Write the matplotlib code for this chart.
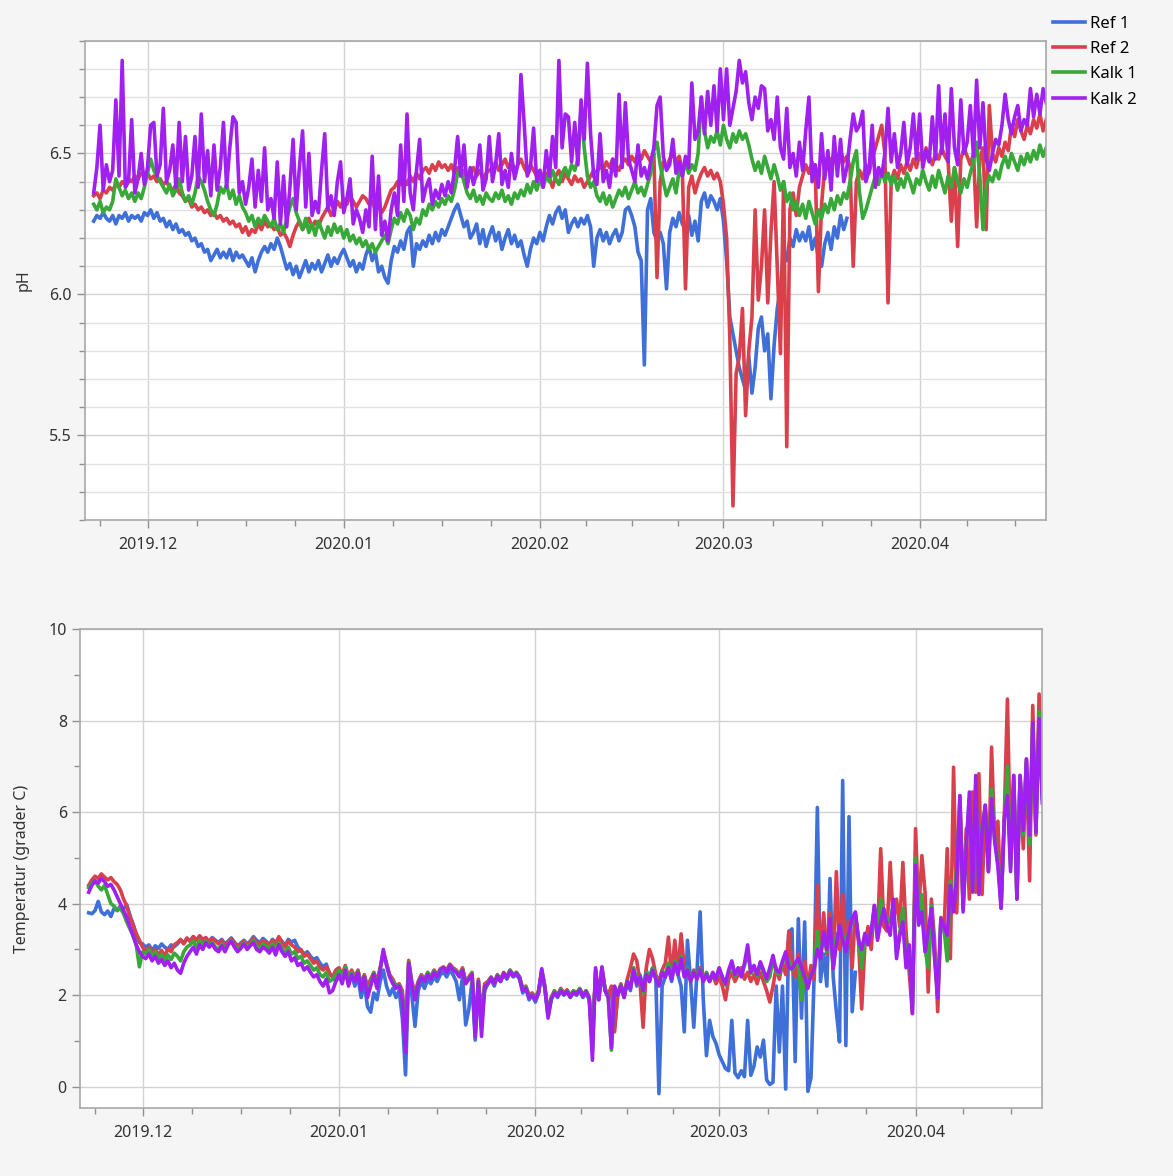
import numpy as np
import pandas as pd
import matplotlib
matplotlib.use("Agg")
import matplotlib.pyplot as plt
import matplotlib.dates as mdates
from matplotlib.ticker import FixedLocator, MultipleLocator

plt.rcParams['font.family'] = ['Noto Sans', 'DejaVu Sans']

series_names = ['Ref 1', 'Ref 2', 'Kalk 1', 'Kalk 2']
colors = ['#3f6fd8', '#d8404c', '#38a838', '#a020f0']

# 12-hourly samples starting 2019-11-22 12:00
times = pd.date_range('2019-11-22 12:00', periods=302, freq='12h')

# ---------------- pH ----------------
ph_ref1 = [
    6.26, 6.28, 6.27, 6.29, 6.27, 6.26, 6.28, 6.25, 6.28, 6.27, 6.29, 6.26, 6.28, 6.27,
    6.28, 6.26, 6.29, 6.28, 6.30, 6.27, 6.29, 6.26, 6.27, 6.24, 6.26, 6.23, 6.25, 6.22,
    6.23, 6.21, 6.22, 6.19, 6.20, 6.17, 6.18, 6.15, 6.16, 6.12, 6.14, 6.16, 6.13, 6.15,
    6.13, 6.16, 6.12, 6.15, 6.13, 6.14, 6.12, 6.10, 6.13, 6.08, 6.12, 6.15, 6.17, 6.15,
    6.18, 6.16, 6.20, 6.17, 6.13, 6.09, 6.11, 6.07, 6.10, 6.06, 6.09, 6.12, 6.08, 6.11,
    6.09, 6.12, 6.08, 6.11, 6.14, 6.10, 6.13, 6.11, 6.14, 6.16, 6.13, 6.10, 6.12, 6.08,
    6.11, 6.09, 6.14, 6.17, 6.12, 6.15, 6.08, 6.10, 6.06, 6.04, 6.12, 6.17, 6.15, 6.19,
    6.16, 6.22, 6.24, 6.10, 6.18, 6.16, 6.19, 6.17, 6.21, 6.18, 6.22, 6.19, 6.23, 6.21,
    6.24, 6.27, 6.30, 6.32, 6.28, 6.24, 6.26, 6.20, 6.22, 6.25, 6.18, 6.23, 6.17, 6.21,
    6.24, 6.19, 6.22, 6.16, 6.20, 6.23, 6.18, 6.21, 6.17, 6.19, 6.14, 6.10, 6.16, 6.20,
    6.18, 6.22, 6.19, 6.24, 6.28, 6.25, 6.29, 6.31, 6.27, 6.30, 6.22, 6.25, 6.27, 6.24,
    6.27, 6.25, 6.28, 6.24, 6.10, 6.20, 6.23, 6.19, 6.22, 6.18, 6.21, 6.23, 6.19, 6.22,
    6.30, 6.31, 6.28, 6.24, 6.15, 6.12, 5.75, 6.30, 6.34, 6.22, 6.19, 6.22, 6.18, 6.02,
    6.22, 6.27, 6.24, 6.29, 6.25, 6.23, 6.28, 6.21, 6.26, 6.19, 6.33, 6.36, 6.31, 6.35,
    6.33, 6.30, 6.34, 6.26, 6.12, 5.92, 5.86, 5.80, 5.74, 5.70, 5.66, 5.78, 5.65, 5.74,
    5.88, 5.92, 5.80, 5.86, 5.63, 5.82, 5.95, 6.02, 6.16, 6.12, 6.20, 6.17, 6.23, 6.19,
    6.22, 6.19, 6.24, 6.16, 6.20, 6.13, 6.10, 6.18, 6.22, 6.16, 6.24, 6.20, 6.28, 6.23,
    6.27,
]

ph_ref2 = [
    6.35, 6.36, 6.34, 6.37, 6.36, 6.38, 6.37, 6.39, 6.38, 6.40, 6.39, 6.41, 6.40, 6.42,
    6.41, 6.43, 6.42, 6.43, 6.41, 6.42, 6.40, 6.41, 6.39, 6.40, 6.38, 6.37, 6.39, 6.36,
    6.35, 6.33, 6.34, 6.31, 6.32, 6.30, 6.31, 6.29, 6.30, 6.28, 6.29, 6.27, 6.28, 6.26,
    6.27, 6.25, 6.26, 6.24, 6.25, 6.22, 6.24, 6.21, 6.23, 6.22, 6.25, 6.23, 6.26, 6.24,
    6.25, 6.23, 6.24, 6.21, 6.22, 6.20, 6.17, 6.21, 6.24, 6.26, 6.23, 6.25, 6.27, 6.24,
    6.26, 6.24, 6.27, 6.29, 6.31, 6.28, 6.30, 6.33, 6.31, 6.34, 6.32, 6.35, 6.33, 6.31,
    6.33, 6.35, 6.34, 6.32, 6.33, 6.30, 6.32, 6.29, 6.31, 6.34, 6.37, 6.38, 6.40, 6.39,
    6.41, 6.39, 6.42, 6.40, 6.43, 6.41, 6.44, 6.45, 6.43, 6.46, 6.44, 6.47, 6.45, 6.46,
    6.44, 6.46, 6.43, 6.45, 6.42, 6.44, 6.41, 6.43, 6.45, 6.42, 6.44, 6.41, 6.43, 6.44,
    6.45, 6.47, 6.44, 6.46, 6.48, 6.45, 6.47, 6.44, 6.46, 6.48, 6.45, 6.43, 6.46, 6.44,
    6.42, 6.44, 6.40, 6.43, 6.41, 6.38, 6.42, 6.44, 6.40, 6.43, 6.41, 6.39, 6.42, 6.40,
    6.41, 6.38, 6.40, 6.42, 6.44, 6.43, 6.46, 6.44, 6.47, 6.45, 6.48, 6.46, 6.44, 6.47,
    6.48, 6.46, 6.49, 6.47, 6.50, 6.48, 6.51, 6.49, 6.47, 6.50, 6.06, 6.40, 6.47, 6.45,
    6.48, 6.50, 6.47, 6.49, 6.44, 6.02, 6.38, 6.42, 6.36, 6.40, 6.43, 6.45, 6.42, 6.44,
    6.41, 6.43, 6.40, 6.32, 6.20, 5.85, 5.25, 5.72, 5.78, 5.95, 5.57, 5.80, 5.92, 6.30,
    5.98, 6.10, 6.30, 5.97, 6.22, 6.40, 6.10, 5.79, 6.40, 5.46, 6.30, 6.36, 6.28, 6.38,
    6.42, 6.46, 6.43, 6.47, 6.44, 6.01, 6.32, 6.45, 6.49, 6.47, 6.50, 6.48, 6.51, 6.47,
    6.49, 6.45, 6.10, 6.40, 6.44, 6.41, 6.46, 6.43, 6.48, 6.52, 6.56, 6.60, 6.50, 5.97,
    6.40, 6.44, 6.41, 6.46, 6.43, 6.47, 6.44, 6.48, 6.45, 6.50, 6.47, 6.52, 6.49, 6.46,
    6.50, 6.48, 6.52, 6.49, 6.47, 6.26, 6.45, 6.17, 6.48, 6.52, 6.49, 6.46, 6.50, 6.24,
    6.48, 6.52, 6.23, 6.67, 6.50, 6.47, 6.52, 6.49, 6.54, 6.51, 6.60, 6.56, 6.62, 6.58,
    6.55, 6.60, 6.57, 6.62, 6.59, 6.64, 6.58, 6.62,
]

ph_kalk1 = [
    6.32, 6.30, 6.33, 6.29, 6.31, 6.30, 6.33, 6.41, 6.38, 6.35, 6.37, 6.34, 6.36, 6.33,
    6.36, 6.34, 6.38, 6.43, 6.48, 6.44, 6.42, 6.40, 6.38, 6.36, 6.39, 6.35, 6.37, 6.41,
    6.36, 6.33, 6.35, 6.32, 6.36, 6.42, 6.40, 6.37, 6.33, 6.30, 6.28, 6.32, 6.38, 6.36,
    6.39, 6.34, 6.37, 6.32, 6.35, 6.31, 6.29, 6.26, 6.28, 6.24, 6.27, 6.25, 6.28, 6.26,
    6.24, 6.27, 6.23, 6.25, 6.22, 6.27, 6.31, 6.34, 6.29, 6.26, 6.23, 6.27, 6.22, 6.25,
    6.21, 6.26, 6.23, 6.20, 6.24, 6.21, 6.25, 6.22, 6.24, 6.20, 6.23, 6.19, 6.21, 6.18,
    6.20, 6.17, 6.19, 6.16, 6.18, 6.15, 6.17, 6.19, 6.21, 6.18, 6.23, 6.27, 6.25, 6.29,
    6.26, 6.30, 6.28, 6.23, 6.27, 6.25, 6.30, 6.28, 6.32, 6.30, 6.33, 6.31, 6.34, 6.32,
    6.35, 6.33, 6.37, 6.43, 6.44, 6.40, 6.36, 6.34, 6.37, 6.33, 6.35, 6.32, 6.36, 6.34,
    6.33, 6.36, 6.34, 6.37, 6.33, 6.35, 6.32, 6.36, 6.34, 6.37, 6.35, 6.39, 6.36, 6.40,
    6.37, 6.41, 6.38, 6.42, 6.40, 6.44, 6.41, 6.39, 6.43, 6.45, 6.42, 6.46, 6.44, 6.48,
    6.66, 6.52, 6.42, 6.38, 6.40, 6.35, 6.33, 6.36, 6.32, 6.35, 6.31, 6.34, 6.37, 6.35,
    6.38, 6.34, 6.37, 6.40, 6.36, 6.38, 6.35, 6.39, 6.43, 6.51, 6.54, 6.46, 6.40, 6.35,
    6.38, 6.41, 6.36, 6.44, 6.42, 6.47, 6.43, 6.46, 6.44, 6.50, 6.70, 6.58, 6.52, 6.56,
    6.54, 6.58, 6.53, 6.60, 6.55, 6.52, 6.57, 6.54, 6.58, 6.55, 6.57, 6.53, 6.48, 6.44,
    6.47, 6.43, 6.49, 6.45, 6.41, 6.46, 6.42, 6.37, 6.40, 6.33, 6.36, 6.30, 6.33, 6.28,
    6.32, 6.27, 6.33, 6.29, 6.25, 6.30, 6.27, 6.32, 6.29, 6.34, 6.30, 6.35, 6.32, 6.36,
    6.34, 6.40, 6.47, 6.51, 6.36, 6.27, 6.30, 6.34, 6.38, 6.42, 6.39, 6.44, 6.40, 6.43,
    6.39, 6.42, 6.37, 6.41, 6.38, 6.43, 6.40, 6.36, 6.41, 6.39, 6.44, 6.40, 6.37, 6.42,
    6.38, 6.44, 6.40, 6.36, 6.42, 6.38, 6.45, 6.40, 6.36, 6.41, 6.38, 6.43, 6.47, 6.54,
    6.42, 6.23, 6.38, 6.42, 6.40, 6.44, 6.41, 6.46, 6.49, 6.45, 6.50, 6.47, 6.44, 6.49,
    6.46, 6.50, 6.47, 6.51, 6.48, 6.53, 6.49, 6.52,
]

ph_kalk2 = [
    6.36, 6.45, 6.60, 6.37, 6.46, 6.40, 6.44, 6.69, 6.42, 6.83, 6.38, 6.40, 6.62, 6.36,
    6.41, 6.50, 6.39, 6.45, 6.60, 6.61, 6.42, 6.46, 6.66, 6.40, 6.44, 6.53, 6.38, 6.61,
    6.40, 6.56, 6.37, 6.42, 6.56, 6.38, 6.64, 6.40, 6.51, 6.35, 6.53, 6.37, 6.45, 6.61,
    6.38, 6.52, 6.63, 6.61, 6.36, 6.40, 6.32, 6.38, 6.48, 6.31, 6.44, 6.33, 6.52, 6.30,
    6.34, 6.27, 6.47, 6.25, 6.42, 6.24, 6.38, 6.55, 6.30, 6.45, 6.58, 6.31, 6.50, 6.28,
    6.33, 6.29, 6.44, 6.57, 6.30, 6.35, 6.28, 6.40, 6.47, 6.29, 6.34, 6.41, 6.25, 6.30,
    6.27, 6.22, 6.30, 6.24, 6.49, 6.23, 6.42, 6.21, 6.26, 6.19, 6.30, 6.36, 6.28, 6.53,
    6.33, 6.64, 6.36, 6.30, 6.44, 6.55, 6.33, 6.38, 6.41, 6.32, 6.37, 6.34, 6.39, 6.35,
    6.40, 6.36, 6.44, 6.56, 6.42, 6.53, 6.38, 6.45, 6.39, 6.43, 6.53, 6.37, 6.41, 6.56,
    6.40, 6.46, 6.57, 6.39, 6.44, 6.38, 6.50, 6.41, 6.46, 6.78, 6.61, 6.42, 6.45, 6.59,
    6.40, 6.44, 6.38, 6.51, 6.42, 6.56, 6.45, 6.83, 6.52, 6.64, 6.63, 6.47, 6.61, 6.46,
    6.69, 6.55, 6.82, 6.57, 6.42, 6.39, 6.57, 6.40, 6.44, 6.38, 6.48, 6.42, 6.71, 6.45,
    6.68, 6.48, 6.44, 6.40, 6.53, 6.42, 6.45, 6.41, 6.47, 6.52, 6.67, 6.70, 6.49, 6.44,
    6.46, 6.55, 6.43, 6.47, 6.42, 6.49, 6.45, 6.75, 6.55, 6.58, 6.70, 6.57, 6.72, 6.60,
    6.74, 6.58, 6.80, 6.62, 6.80, 6.60, 6.66, 6.72, 6.83, 6.75, 6.79, 6.68, 6.62, 6.70,
    6.66, 6.74, 6.73, 6.58, 6.62, 6.55, 6.70, 6.52, 6.48, 6.66, 6.45, 6.50, 6.42, 6.54,
    6.44, 6.58, 6.70, 6.40, 6.46, 6.38, 6.57, 6.41, 6.51, 6.37, 6.56, 6.42, 6.55, 6.40,
    6.45, 6.55, 6.64, 6.58, 6.60, 6.65, 6.40, 6.44, 6.60, 6.38, 6.45, 6.42, 6.50, 6.66,
    6.47, 6.57, 6.45, 6.50, 6.61, 6.46, 6.52, 6.64, 6.48, 6.64, 6.45, 6.51, 6.47, 6.63,
    6.48, 6.74, 6.50, 6.64, 6.47, 6.73, 6.52, 6.46, 6.69, 6.50, 6.54, 6.67, 6.49, 6.76,
    6.52, 6.68, 6.48, 6.44, 6.50, 6.55, 6.53, 6.60, 6.71, 6.62, 6.57, 6.63, 6.67, 6.58,
    6.62, 6.60, 6.73, 6.63, 6.71, 6.64, 6.73, 6.68,
]

# ---------------- Temperature ----------------
t_ref1 = [
    3.80, 3.78, 3.85, 4.05, 3.82, 3.76, 3.84, 3.72, 3.90, 3.85, 3.95, 3.88, 3.98, 3.75,
    3.55, 3.30, 3.15, 3.12, 3.05, 3.10, 2.98, 3.08, 3.02, 3.12, 3.05, 3.00, 3.10, 3.06,
    3.12, 3.20, 3.15, 3.24, 3.18, 3.28, 3.20, 3.25, 3.15, 3.22, 3.18, 3.26, 3.20, 3.15,
    3.22, 3.12, 3.18, 3.25, 3.16, 3.08, 3.14, 3.20, 3.12, 3.18, 3.28, 3.20, 3.15, 3.24,
    3.18, 3.10, 3.22, 3.15, 3.25, 3.18, 3.08, 3.22, 3.16, 3.20, 3.05, 2.98, 2.90, 2.95,
    2.85, 2.78, 2.82, 2.70, 2.62, 2.68, 2.48, 2.40, 2.30, 2.42, 2.35, 2.55, 2.28, 2.45,
    2.20, 2.40, 1.95, 2.25, 1.75, 1.63, 2.05, 1.90, 2.30, 2.55, 2.20, 2.00, 2.15, 1.95,
    2.10, 1.50, 0.26, 2.40, 2.00, 1.32, 2.10, 2.30, 2.15, 2.35, 2.25, 2.40, 2.30, 2.45,
    2.50, 2.40, 2.55, 2.45, 2.30, 1.90, 2.40, 1.35, 1.70, 2.30, 1.02, 2.20, 1.60, 2.10,
    2.25, 2.35, 2.20, 2.40, 2.30, 2.45, 2.35, 2.50, 2.40, 2.45, 2.35, 2.05, 2.15, 1.90,
    2.00, 1.85, 2.05, 2.45, 2.15, 1.55, 1.90, 2.05, 1.95, 2.10, 2.00, 2.08, 1.95, 2.05,
    2.00, 2.10, 1.95, 2.05, 1.90, 1.20, 2.40, 1.90, 2.50, 2.10, 1.95, 2.15, 1.30, 2.00,
    2.20, 1.95, 2.30, 2.10, 2.60, 2.20, 2.45, 2.15, 2.55, 2.30, 2.60, 2.40, -0.15, 2.20,
    2.40, 2.60, 2.30, 2.70, 2.45, 2.20, 1.20, 3.20, 2.30, 1.30, 2.50, 3.82, 1.90, 0.68,
    1.45, 1.10, 0.95, 0.70, 0.55, 0.40, 0.35, 1.45, 0.30, 0.20, 0.35, 0.22, 1.45, 0.25,
    0.45, 0.87, 0.65, 1.02, 0.15, 0.05, 0.10, 2.20, 0.76, 2.20, -0.05, 3.38, 3.45, 0.55,
    3.67, 1.50, 3.60, -0.10, 0.20, 2.45, 6.10, 2.30, 2.90, 2.20, 4.55, 2.40, 1.64, 0.98,
    6.69, 0.90, 5.90, 1.64, 2.50,
]

t_ref2 = [
    4.40, 4.52, 4.60, 4.55, 4.65, 4.58, 4.52, 4.57, 4.48, 4.42, 4.30, 4.10, 3.95, 3.70,
    3.55, 3.35, 3.20, 3.05, 2.95, 3.05, 2.92, 3.00, 2.88, 2.98, 2.85, 3.02, 2.95, 3.10,
    3.15, 3.22, 3.12, 3.25, 3.18, 3.28, 3.20, 3.30, 3.22, 3.26, 3.15, 3.24, 3.18, 3.12,
    3.20, 3.10, 3.16, 3.24, 3.14, 3.06, 3.12, 3.18, 3.10, 3.16, 3.25, 3.15, 3.10, 3.20,
    3.15, 3.08, 3.20, 3.12, 3.28, 3.15, 3.05, 3.18, 3.10, 3.05, 2.95, 3.00, 2.85, 2.90,
    2.80, 2.70, 2.75, 2.60, 2.55, 2.62, 2.48, 2.40, 2.55, 2.60, 2.45, 2.65, 2.40, 2.55,
    2.40, 2.55, 2.25, 2.45, 2.20, 2.35, 2.50, 2.30, 2.60, 2.95, 2.70, 2.45, 2.35, 2.20,
    2.25, 2.10, 1.20, 2.76, 2.30, 2.05, 2.30, 2.45, 2.35, 2.50, 2.40, 2.55, 2.45, 2.58,
    2.62, 2.55, 2.68, 2.60, 2.55, 2.45, 2.60, 2.30, 2.40, 2.50, 1.30, 2.35, 1.60, 2.25,
    2.30, 2.40, 2.28, 2.45, 2.35, 2.50, 2.40, 2.55, 2.45, 2.50, 2.40, 2.15, 2.20, 2.00,
    2.05, 1.95, 2.10, 2.55, 2.20, 1.60, 1.95, 2.10, 2.00, 2.15, 2.05, 2.12, 2.00, 2.10,
    2.05, 2.15, 2.00, 2.10, 1.95, 1.00, 2.55, 1.95, 2.60, 2.15, 2.00, 2.20, 1.20, 2.05,
    2.25, 2.00, 2.35, 2.60, 2.90, 2.75, 2.30, 1.30, 2.60, 3.00, 2.80, 2.45, 2.30, 2.55,
    2.70, 3.27, 2.40, 3.20, 2.50, 3.34, 2.60, 2.45, 2.35, 2.55, 2.40, 2.60, 2.35, 2.50,
    2.30, 2.45, 2.25, 2.40, 2.20, 1.90, 2.35, 2.50, 2.30, 2.45, 2.60, 2.35, 2.50, 2.30,
    2.45, 2.25, 2.50, 2.30, 2.10, 1.85, 2.20, 2.60, 2.35, 2.70, 2.45, 3.40, 2.60, 2.40,
    2.90, 2.30, 2.75, 2.20, 2.65, 2.35, 4.40, 2.80, 3.80, 2.90, 3.80, 2.60, 4.70, 3.00,
    4.20, 3.20, 3.60, 2.60, 3.80, 3.20, 1.70, 3.10, 3.50, 3.00, 3.96, 3.30, 5.20, 3.50,
    3.40, 4.90, 3.60, 4.10, 3.50, 4.90, 3.40, 2.50, 1.60, 5.64, 3.80, 5.05, 4.25, 2.07,
    4.10, 3.20, 1.64, 3.70, 3.40, 5.20, 2.80, 6.98, 3.80, 6.36, 4.00, 5.64, 4.10, 6.44,
    4.25, 6.84, 4.20, 6.15, 4.70, 7.42, 5.35, 5.80, 3.90, 5.85, 8.47, 5.00, 6.80, 4.10,
    6.80, 5.20, 7.16, 4.50, 8.33, 5.50, 8.58, 6.50,
]

t_kalk1 = [
    4.35, 4.45, 4.50, 4.38, 4.30, 4.40, 4.20, 4.00, 3.95, 3.85, 3.90, 3.78, 3.60, 3.45,
    3.30, 3.10, 2.62, 2.95, 2.90, 3.00, 2.85, 2.95, 2.80, 2.90, 2.75, 2.88, 2.78, 2.92,
    2.85, 2.75, 2.95, 3.05, 3.10, 3.18, 3.05, 3.20, 3.10, 3.18, 3.08, 3.15, 3.05, 3.00,
    3.12, 3.02, 3.12, 3.20, 3.08, 3.00, 3.06, 3.14, 3.05, 3.10, 3.20, 3.08, 3.02, 3.12,
    3.08, 3.00, 3.12, 2.98, 3.15, 3.02, 2.92, 3.05, 2.90, 2.95, 2.80, 2.85, 2.70, 2.75,
    2.65, 2.55, 2.60, 2.45, 2.40, 2.50, 2.30, 2.35, 2.45, 2.55, 2.38, 2.62, 2.30, 2.50,
    2.35, 2.52, 2.18, 2.42, 2.05, 2.25, 2.48, 2.22, 2.58, 2.90, 2.68, 2.42, 2.30, 2.18,
    2.22, 2.00, 1.00, 2.72, 2.25, 1.95, 2.28, 2.42, 2.32, 2.48, 2.38, 2.52, 2.42, 2.56,
    2.60, 2.52, 2.66, 2.58, 2.52, 2.42, 2.58, 2.28, 2.38, 2.48, 1.20, 2.32, 1.30, 2.22,
    2.28, 2.38, 2.26, 2.44, 2.32, 2.48, 2.40, 2.55, 2.44, 2.50, 2.40, 2.12, 2.18, 1.98,
    2.02, 1.92, 2.08, 2.52, 2.18, 1.58, 1.94, 2.08, 2.00, 2.12, 2.04, 2.10, 1.98, 2.08,
    2.04, 2.14, 2.00, 2.10, 1.95, 0.80, 2.50, 1.92, 2.55, 2.12, 1.98, 0.80, 2.15, 2.02,
    2.22, 1.98, 2.32, 2.18, 2.60, 2.30, 2.42, 2.05, 2.50, 2.40, 2.60, 2.38, 2.25, 2.52,
    2.45, 2.70, 2.38, 2.75, 2.48, 2.85, 2.45, 2.58, 2.35, 2.52, 2.38, 2.58, 2.32, 2.48,
    2.32, 2.48, 2.36, 2.58, 2.40, 2.22, 2.50, 2.70, 2.42, 2.58, 2.45, 2.65, 2.95, 2.48,
    2.60, 2.42, 2.70, 2.50, 2.30, 2.40, 2.80, 2.50, 2.45, 2.70, 2.85, 2.75, 2.55, 2.65,
    2.75, 1.90, 2.45, 2.20, 2.45, 2.55, 3.40, 2.85, 3.35, 2.95, 3.60, 2.60, 3.30, 3.40,
    3.30, 3.00, 3.45, 3.60, 3.75, 3.25, 2.60, 3.30, 3.20, 3.35, 3.90, 3.25, 4.10, 3.80,
    3.70, 3.60, 4.00, 2.90, 3.35, 3.90, 2.70, 3.00, 1.80, 5.00, 3.60, 4.20, 3.00, 2.60,
    3.95, 2.90, 2.00, 3.65, 3.45, 2.75, 4.50, 3.85, 4.80, 6.20, 3.90, 5.30, 6.30, 4.30,
    6.60, 4.25, 5.70, 6.10, 4.75, 6.50, 5.40, 5.00, 3.95, 5.80, 7.00, 4.80, 6.70, 4.15,
    6.75, 5.50, 7.10, 5.30, 7.90, 5.55, 8.20, 6.30,
]

t_kalk2 = [
    4.25, 4.40, 4.50, 4.45, 4.55, 4.48, 4.38, 4.42, 4.30, 4.15, 4.00, 3.85, 3.70, 3.50,
    3.30, 3.10, 2.95, 2.85, 2.80, 2.90, 2.75, 2.85, 2.70, 2.78, 2.65, 2.75, 2.60, 2.70,
    2.55, 2.48, 2.70, 2.85, 2.95, 3.05, 2.90, 3.10, 3.00, 3.15, 3.05, 3.12, 3.00, 2.95,
    3.08, 2.95, 3.10, 3.18, 3.05, 2.95, 3.02, 3.12, 3.00, 3.08, 3.15, 3.00, 2.95, 3.05,
    3.00, 2.92, 3.05, 2.88, 3.10, 2.95, 2.85, 2.95, 2.75, 2.82, 2.65, 2.70, 2.55, 2.62,
    2.50, 2.40, 2.45, 2.30, 2.20, 2.35, 2.05, 2.10, 2.30, 2.45, 2.25, 2.55, 2.20, 2.45,
    2.30, 2.50, 2.10, 2.40, 1.95, 2.20, 2.45, 2.15, 2.55, 3.00, 2.65, 2.40, 2.25, 2.15,
    2.20, 1.90, 0.75, 2.70, 2.20, 1.90, 2.25, 2.40, 2.30, 2.45, 2.35, 2.50, 2.40, 2.55,
    2.60, 2.50, 2.65, 2.55, 2.50, 2.40, 2.55, 2.25, 2.35, 2.45, 1.10, 2.30, 1.10, 2.20,
    2.25, 2.38, 2.25, 2.42, 2.30, 2.48, 2.38, 2.52, 2.42, 2.48, 2.38, 2.10, 2.15, 1.95,
    2.00, 1.90, 2.05, 2.58, 2.15, 1.50, 1.92, 2.05, 1.98, 2.10, 2.02, 2.08, 1.96, 2.06,
    2.02, 2.12, 1.98, 2.08, 1.92, 0.58, 2.60, 1.90, 2.62, 2.10, 1.95, 0.85, 2.20, 2.00,
    2.20, 1.95, 2.30, 2.15, 2.55, 2.25, 2.40, 2.10, 2.45, 2.30, 2.55, 2.35, 2.20, 2.50,
    2.40, 2.60, 2.35, 2.70, 2.45, 2.80, 2.40, 2.55, 2.30, 2.50, 2.35, 2.55, 2.30, 2.45,
    2.30, 2.50, 2.35, 2.60, 2.40, 2.25, 2.55, 2.75, 2.45, 2.60, 2.40, 2.70, 3.10, 2.50,
    2.65, 2.45, 2.73, 2.55, 2.36, 2.60, 2.87, 2.55, 2.50, 2.75, 2.95, 2.60, 2.58, 2.70,
    2.80, 2.60, 2.40, 2.15, 2.44, 2.58, 3.00, 2.80, 3.38, 3.00, 3.67, 2.58, 3.10, 3.53,
    3.20, 2.95, 3.40, 3.67, 3.82, 3.20, 3.00, 3.35, 3.10, 3.40, 3.96, 3.20, 3.60, 3.89,
    3.50, 3.31, 4.10, 2.80, 3.30, 3.60, 2.60, 3.10, 1.60, 4.84, 3.53, 3.82, 2.95, 3.40,
    3.89, 2.80, 1.93, 3.67, 3.50, 3.31, 4.40, 3.82, 4.60, 6.36, 3.82, 5.20, 6.44, 4.25,
    6.80, 4.20, 5.60, 6.15, 4.70, 6.29, 5.35, 4.80, 3.90, 5.85, 6.36, 4.70, 6.80, 4.10,
    6.80, 5.60, 7.16, 5.50, 7.96, 5.56, 8.04, 6.20,
]

ph_data = [ph_ref1, ph_ref2, ph_kalk1, ph_kalk2]
temp_data = [t_ref1, t_ref2, t_kalk1, t_kalk2]

month_ticks = ['2019-12-01', '2020-01-01', '2020-02-01', '2020-03-01', '2020-04-01']
month_starts = ['2019-11-01', '2019-12-01', '2020-01-01', '2020-02-01',
                '2020-03-01', '2020-04-01', '2020-05-01']

x_lo = pd.Timestamp('2019-11-21 03:00')
x_hi = pd.Timestamp('2020-04-20 23:00')

# minor ticks: each month split in four parts
minor_pos = []
for a, b in zip(month_starts[:-1], month_starts[1:]):
    ta, tb = pd.Timestamp(a), pd.Timestamp(b)
    for k in (1, 2, 3):
        t = ta + (tb - ta) * k / 4
        if x_lo <= t <= x_hi:
            minor_pos.append(mdates.date2num(t))

BG = '#f5f5f5'
W, H = 1173, 1176
LW = 2.6
fig = plt.figure(figsize=(W / 100, H / 100), dpi=100, facecolor=BG)
ax1 = fig.add_axes([85 / W, 1 - 520 / H, 961 / W, 479.3 / H])
ax2 = fig.add_axes([80 / W, 1 - 1108.3 / H, 962 / W, 479.3 / H])

lines = []
for vals, c, name in zip(ph_data, colors, series_names):
    ln, = ax1.plot(times[:len(vals)], vals, color=c, lw=LW, label=name,
                   solid_joinstyle='round')
    lines.append(ln)
for vals, c, name in zip(temp_data, colors, series_names):
    ax2.plot(times[:len(vals)], vals, color=c, lw=LW, solid_joinstyle='round')

for ax in (ax1, ax2):
    ax.set_facecolor('white')
    ax.set_xlim(x_lo, x_hi)
    ax.xaxis.set_major_locator(FixedLocator(mdates.date2num(pd.to_datetime(month_ticks))))
    ax.xaxis.set_major_formatter(mdates.DateFormatter('%Y.%m'))
    ax.xaxis.set_minor_locator(FixedLocator(minor_pos))
    for s in ax.spines.values():
        s.set_color('#a8a8a8')
        s.set_linewidth(1.2)
    ax.tick_params(axis='both', which='major', direction='out', length=6,
                   width=1, color='#909090', labelsize=11.5, labelcolor='#333333')
    ax.tick_params(axis='both', which='minor', direction='out', length=4,
                   width=1, color='#909090')
    ax.tick_params(axis='x', which='major', pad=6)
    ax.set_axisbelow(True)

ax1.set_ylim(5.2, 6.9)
ax1.yaxis.set_major_locator(FixedLocator([5.5, 6.0, 6.5]))
ax1.yaxis.set_major_formatter(plt.FuncFormatter(lambda v, p: f'{v:.1f}'))
ax1.yaxis.set_minor_locator(MultipleLocator(0.1))
ax1.grid(True, which='major', axis='both', color='#d2d2d2', lw=1.0)
ax1.grid(True, which='minor', axis='y', color='#e2e2e2', lw=1.0)
ax1.set_ylabel('pH', fontsize=11.5, color='#333333')
ax1.yaxis.set_label_coords(-0.056, 0.5)

ax2.set_ylim(-0.47, 10)
ax2.yaxis.set_major_locator(MultipleLocator(2))
ax2.yaxis.set_minor_locator(MultipleLocator(1))
ax2.grid(True, which='major', axis='both', color='#d2d2d2', lw=1.0)
ax2.set_ylabel('Temperatur (grader C)', fontsize=11.5, color='#333333')
ax2.yaxis.set_label_coords(-0.052, 0.5)

fig.legend(handles=lines, labels=series_names, loc='upper left',
           bbox_to_anchor=(1053 / W, 1 - 16 / H), frameon=False, fontsize=12,
           handlelength=1.9, handletextpad=0.3, labelspacing=0.55, borderpad=0,
           borderaxespad=0)

fig.savefig('out.png', dpi=100, facecolor=BG)
